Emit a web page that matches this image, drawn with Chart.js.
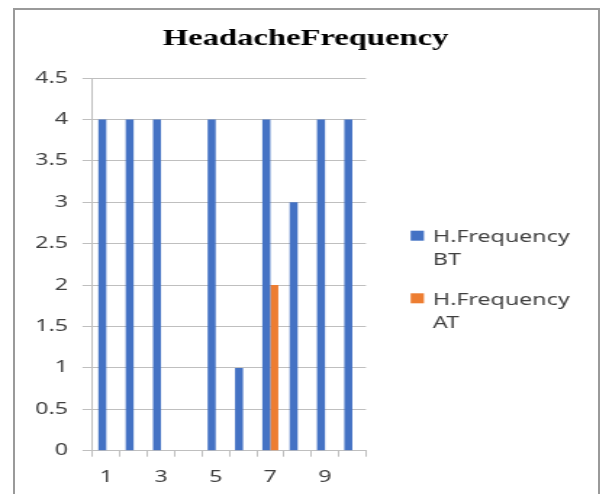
<!DOCTYPE html>
<html><head><meta charset="utf-8">
<script src="https://cdn.jsdelivr.net/npm/chart.js@4.4.0/dist/chart.umd.min.js"></script>
<style>
html,body{margin:0;padding:0;background:#fff;overflow:hidden;width:602px;height:494px;}
#wrap{position:absolute;left:0;top:0;width:415px;height:494px;transform:scaleX(1.45);transform-origin:0 0;}
#frame{position:absolute;left:13px;top:8px;width:583px;height:600px;border:2px solid #9a9a9a;border-bottom:none;pointer-events:none;}
</style></head><body>
<div id="wrap"><canvas id="c" width="415" height="494"></canvas></div>
<div id="frame"></div>
<script>
const categories = ['1','2','3','4','5','6','7','8','9','10'];
const shownTickLabels = ['1','3','5','7','9'];
const freqBT = [4,4,4,0,4,1,4,3,4,4];
const freqAT = [0,0,0,0,0,0,2,0,0,0];
const seriesNames = [['H.Frequency','BT'],['H.Frequency','AT']];
const seriesColors = ['#4472C4','#ED7D31'];
const yMin = 0, yMax = 4.5, yStep = 0.5;

const tickFont = {family:'Noto Sans', size:16};
const textColor = '#404040';
const gridColor = '#bfbfbf';

const legendPlugin = {
  id:'sideLegend',
  afterDraw(chart){
    const ctx = chart.ctx;
    const x0 = chart.chartArea.right + 30.8;
    const tops = [230.7, 293.3];
    ctx.save();
    ctx.font = '16px "Noto Sans"';
    ctx.textBaseline = 'alphabetic';
    ctx.textAlign = 'left';
    chart.data.datasets.forEach((ds, i) => {
      const t = tops[i];
      ctx.fillStyle = ds.backgroundColor;
      ctx.fillRect(x0, t, 9.2, 10);
      ctx.fillStyle = textColor;
      ds.label.forEach((line, j) => {
        ctx.fillText(line, x0 + 15.4, t + 11.3 + j * 23);
      });
    });
    ctx.restore();
  }
};

new Chart(document.getElementById('c'), {
  type:'bar',
  data:{
    labels: categories,
    datasets:[
      {label: seriesNames[0], data: freqBT, backgroundColor: seriesColors[0], categoryPercentage:0.586, barPercentage:1},
      {label: seriesNames[1], data: freqAT, backgroundColor: seriesColors[1], categoryPercentage:0.586, barPercentage:1}
    ]
  },
  options:{
    responsive:false,
    animation:false,
    devicePixelRatio:1,
    layout:{padding:{left:6.4, right:0, top:0, bottom:0}},
    plugins:{
      legend:{display:false},
      tooltip:{enabled:false},
      title:{display:true, text:'HeadacheFrequency', color:'#000',
        font:{family:'Liberation Serif', size:22.5, weight:'bold'},
        padding:{top:26, bottom:25}}
    },
    scales:{
      x:{
        grid:{offset:true, drawOnChartArea:false, drawTicks:true, tickLength:6, color:gridColor},
        border:{color:gridColor},
        ticks:{autoSkip:false, maxRotation:0, padding:11, font:tickFont, color:textColor,
          callback:(v,i)=> shownTickLabels.includes(categories[i]) ? categories[i] : ''},
        afterFit:(s)=>{ s.height = 43.3; }
      },
      y:{
        min:yMin, max:yMax,
        ticks:{stepSize:yStep, padding:10, font:tickFont, color:textColor,
          callback:(v)=> String(v)},
        grid:{color:gridColor, tickLength:7, drawTicks:true},
        border:{color:gridColor},
        afterFit:(s)=>{ s.width = 57.5; }
      },
      legendSpace:{
        type:'linear', axis:'y', position:'right', display:true,
        grid:{display:false, drawTicks:false}, border:{display:false},
        ticks:{display:false},
        afterFit:(s)=>{ s.width = 162.6; }
      }
    }
  },
  plugins:[legendPlugin]
});
</script>
</body></html>
